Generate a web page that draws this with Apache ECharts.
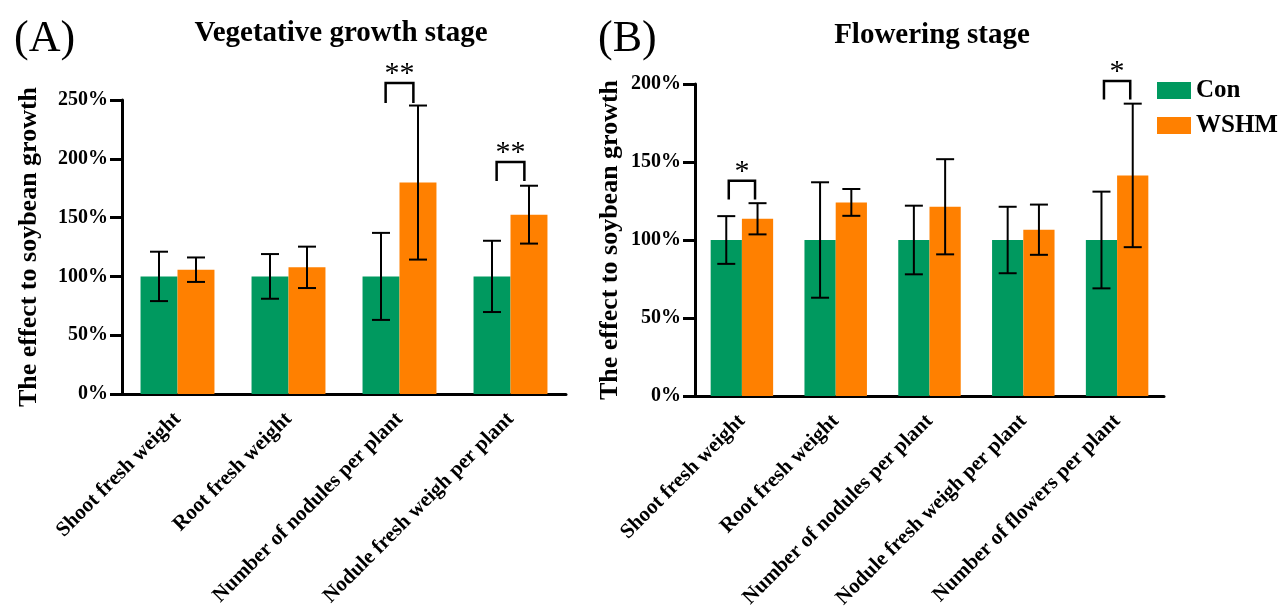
<!DOCTYPE html>
<html>
<head>
<meta charset="utf-8">
<script src="https://cdn.jsdelivr.net/npm/echarts@6/dist/echarts.min.js"></script>
<style>
html,body{margin:0;padding:0;background:#fff;}
#chart{width:1286px;height:611px;}
</style>
</head>
<body>
<div id="chart"></div>
<script>
// ---- Data ----
var catsA = ['Shoot fresh weight', 'Root fresh weight', 'Number of nodules per plant', 'Nodule fresh weigh per plant'];
var conA = [100, 100, 100, 100];
var wshmA = [105.7, 107.7, 179.8, 152.5];
var conErrA = [21, 19, 37, 30.3];
var wshmErrA = [10.4, 17.6, 65.5, 24.6];
var sigCatA = [2, 3];
var sigTopA = [264.5, 197.3];
var sigLegA = [247.5, 181.2];
var sigLabelA = ['**', '**'];

var catsB = ['Shoot fresh weight', 'Root fresh weight', 'Number of nodules per plant', 'Nodule fresh weigh per plant', 'Number of flowers per plant'];
var conB = [100, 100, 100, 100, 100];
var wshmB = [113.6, 124.1, 121.3, 106.6, 141.4];
var conErrB = [15.3, 37, 22, 21.3, 31];
var wshmErrB = [10, 8.6, 30.5, 16.1, 46];
var sigCatB = [0, 4];
var sigTopB = [138, 202];
var sigLegB = [126, 190];
var sigLabelB = ['*', '*'];

var yTicksA = {min: 0, max: 250, interval: 50};
var yTicksB = {min: 0, max: 200, interval: 50};

// ---- Styles ----
var FONT = "'Liberation Serif', 'Times New Roman', serif";
var GREEN = '#00995F';
var ORANGE = '#FF8000';

function errData(means, errs) {
  return means.map(function (m, i) { return [i, m, errs[i]]; });
}
function sigData(cats, tops, legs, labels) {
  return cats.map(function (c, i) { return [c, tops[i], legs[i], labels[i]]; });
}

function errSeries(name, gi, data, side) {
  return {
    type: 'custom', name: name + '_err', xAxisIndex: gi, yAxisIndex: gi, z: 5,
    data: data, silent: true,
    renderItem: function (params, api) {
      var cat = api.value(0), v = api.value(1), e = api.value(2);
      var band = api.size([1, 0])[0];
      var off = side * band / 6;
      var hi = api.coord([cat, v + e]);
      var lo = api.coord([cat, v - e]);
      var x = hi[0] + off;
      var cap = 9;
      var st = {stroke: '#000', lineWidth: 2};
      return {
        type: 'group', children: [
          {type: 'line', shape: {x1: x, y1: hi[1], x2: x, y2: lo[1]}, style: st},
          {type: 'line', shape: {x1: x - cap, y1: hi[1], x2: x + cap, y2: hi[1]}, style: st},
          {type: 'line', shape: {x1: x - cap, y1: lo[1], x2: x + cap, y2: lo[1]}, style: st}
        ]
      };
    }
  };
}

function sigSeries(gi, data, frac, fontSize) {
  return {
    type: 'custom', name: 'sig' + gi, xAxisIndex: gi, yAxisIndex: gi, z: 6,
    data: data, silent: true, clip: false,
    renderItem: function (params, api) {
      var cat = api.value(0), top = api.value(1), leg = api.value(2);
      var label = data[params.dataIndex][3];
      var band = api.size([1, 0])[0];
      var dx = band * frac;
      var t = api.coord([cat, top]);
      var l = api.coord([cat, leg]);
      var x = t[0];
      return {
        type: 'group', children: [
          {type: 'polyline', shape: {points: [[x - dx, l[1]], [x - dx, t[1]], [x + dx, t[1]], [x + dx, l[1]]]},
            style: {stroke: '#000', lineWidth: 2.5, fill: null}},
          {type: 'text', style: {x: x, y: t[1] - 9, text: label, fill: '#000',
            font: fontSize + 'px ' + FONT, textAlign: 'center', textVerticalAlign: 'middle'}}
        ]
      };
    }
  };
}

function xAxisCfg(gi, cats) {
  return {
    type: 'category', gridIndex: gi, data: cats,
    axisLine: {lineStyle: {color: '#000', width: 3}},
    axisTick: {alignWithLabel: true, length: 13, lineStyle: {color: '#000', width: 3}},
    axisLabel: {rotate: 45, interval: 0, margin: 22, color: '#000',
      fontFamily: FONT, fontWeight: 'bold', fontSize: 21},
    splitLine: {show: false}
  };
}
function yAxisCfg(gi, ticks, gap) {
  return {
    type: 'value', gridIndex: gi, min: ticks.min, max: ticks.max, interval: ticks.interval,
    name: 'The effect to soybean growth', nameLocation: 'middle', nameGap: gap,
    nameTextStyle: {fontFamily: FONT, fontWeight: 'bold', fontSize: 26, color: '#000'},
    axisLine: {show: true, lineStyle: {color: '#000', width: 3}},
    axisTick: {show: true, length: 12, lineStyle: {color: '#000', width: 3}},
    axisLabel: {formatter: '{value}%', margin: 14, color: '#000',
      fontFamily: FONT, fontWeight: 'bold', fontSize: 20},
    splitLine: {show: false}
  };
}
function barSeries(name, gi, data, color) {
  return {
    type: 'bar', name: name, xAxisIndex: gi, yAxisIndex: gi, data: data,
    barWidth: '33.3%', barGap: '0%',
    itemStyle: {color: color}
  };
}

var chart = echarts.init(document.getElementById('chart'), null, {renderer: 'canvas'});
chart.setOption({
  backgroundColor: '#fff',
  animation: false,
  title: [
    {text: '(A)', left: 9, top: 12, textStyle: {fontFamily: FONT, fontWeight: 'normal', fontSize: 44, color: '#000'}},
    {text: 'Vegetative growth stage', left: 336, top: 14, textAlign: 'center',
      textStyle: {fontFamily: FONT, fontWeight: 'bold', fontSize: 29, color: '#000'}},
    {text: '(B)', left: 593, top: 12, textStyle: {fontFamily: FONT, fontWeight: 'normal', fontSize: 44, color: '#000'}},
    {text: 'Flowering stage', left: 927, top: 16, textAlign: 'center',
      textStyle: {fontFamily: FONT, fontWeight: 'bold', fontSize: 29, color: '#000'}}
  ],
  legend: {
    data: ['Con', 'WSHM'], orient: 'vertical', left: 1152, top: 73,
    itemWidth: 34, itemHeight: 17, itemGap: 10, icon: 'rect',
    textStyle: {fontFamily: FONT, fontWeight: 'bold', fontSize: 25, color: '#000'}
  },
  grid: [
    {left: 122, top: 100, width: 444, height: 294, containLabel: false, outerBoundsMode: 'none'},
    {left: 695, top: 84, width: 469, height: 312, containLabel: false, outerBoundsMode: 'none'}
  ],
  xAxis: [xAxisCfg(0, catsA), xAxisCfg(1, catsB)],
  yAxis: [yAxisCfg(0, yTicksA, 80), yAxisCfg(1, yTicksB, 72)],
  series: [
    barSeries('Con', 0, conA, GREEN),
    barSeries('WSHM', 0, wshmA, ORANGE),
    barSeries('Con', 1, conB, GREEN),
    barSeries('WSHM', 1, wshmB, ORANGE),
    errSeries('Con', 0, errData(conA, conErrA), -1),
    errSeries('WSHM', 0, errData(wshmA, wshmErrA), 1),
    errSeries('Con', 1, errData(conB, conErrB), -1),
    errSeries('WSHM', 1, errData(wshmB, wshmErrB), 1),
    sigSeries(0, sigData(sigCatA, sigTopA, sigLegA, sigLabelA), 0.125, 30),
    sigSeries(1, sigData(sigCatB, sigTopB, sigLegB, sigLabelB), 0.14, 30)
  ]
});
</script>
</body>
</html>
